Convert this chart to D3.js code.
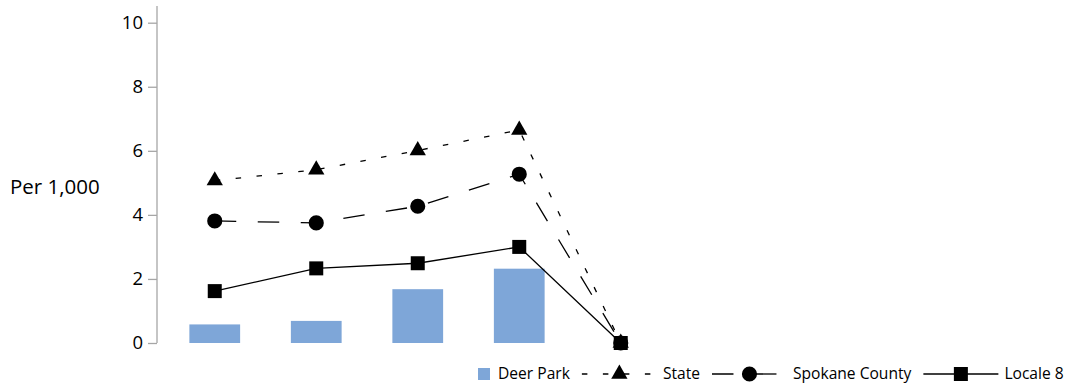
<!DOCTYPE html>
<html>
<head>
<meta charset="utf-8">
<script src="https://cdn.jsdelivr.net/npm/d3@7"></script>
<style>
    body { margin: 0; background: #fff; }
    text { font-family: "Open Sans", sans-serif; fill: #000; }
</style>
</head>
<body>
<div id="chart"></div>
<script>
// Chart data
const categories = ["1", "2", "3", "4", "5"];
const deerPark = [0.58, 0.69, 1.68, 2.32, 0];
const state = [5.07, 5.41, 6.01, 6.65, 0];
const spokane = [3.81, 3.75, 4.27, 5.27, 0];
const locale8 = [1.62, 2.33, 2.49, 3.0, 0];
const yTicks = [0, 2, 4, 6, 8, 10];

const width = 1070, height = 386;

let svg = d3.select("#chart").append("svg")
    .attr("width", width)
    .attr("height", height);

// Scales
let x = d3.scaleBand()
    .domain(categories)
    .range([164, 164 + 101.5 * categories.length])
    .paddingInner(0.5)
    .paddingOuter(0.25);
let cx = d => x(d) + x.bandwidth() / 2;

let y = d3.scaleLinear()
    .domain([0, 10])
    .range([343, 22.7]);

// Y axis
let yAxis = svg.append("g")
    .attr("transform", "translate(157,0)")
    .call(d3.axisLeft(y).tickValues(yTicks).tickSize(9).tickPadding(5).tickSizeOuter(0));
yAxis.select(".domain").remove();
yAxis.append("line")
    .attr("x1", 0).attr("x2", 0)
    .attr("y1", 6).attr("y2", y(0))
    .attr("stroke", "#a6a6a6")
    .attr("stroke-width", 1.3);
yAxis.selectAll(".tick line").attr("stroke", "#a6a6a6").attr("stroke-width", 1.3);
yAxis.selectAll(".tick text")
    .style("font-family", "'Open Sans', sans-serif")
    .style("font-size", "18.5px")
    .attr("fill", "#000");

svg.append("text")
    .attr("x", 10)
    .attr("y", 187)
    .attr("dy", "0.35em")
    .style("font-size", "20.5px")
    .text("Per 1,000");

// Bars
svg.append("g").selectAll("rect")
    .data(categories)
    .join("rect")
        .attr("x", d => x(d))
        .attr("width", x.bandwidth())
        .attr("y", (d, i) => y(deerPark[i]))
        .attr("height", (d, i) => y(0) - y(deerPark[i]))
        .attr("fill", "#7ea6d8");

// Line series
const series = [
    {name: "State", values: state, dash: "5.5,15.5", symbol: d3.symbolTriangle, size: 115},
    {name: "Spokane County", values: spokane, dash: "21.5,21.5", symbol: d3.symbolCircle, size: 180},
    {name: "Locale 8", values: locale8, dash: null, symbol: d3.symbolSquare, size: 196}
];

let line = d3.line()
    .x((d, i) => cx(categories[i]))
    .y(d => y(d));

series.forEach(function(s) {
    svg.append("path")
        .datum(s.values)
        .attr("d", line)
        .attr("fill", "none")
        .attr("stroke", "#000")
        .attr("stroke-width", 1.3)
        .attr("stroke-dasharray", s.dash);
});

series.forEach(function(s) {
    svg.append("g").selectAll("path")
        .data(s.values)
        .join("path")
            .attr("transform", (d, i) => "translate(" + cx(categories[i]) + "," + y(d) + ")")
            .attr("d", d3.symbol().type(s.symbol).size(s.size))
            .attr("fill", "#000");
});

// Legend
let legend = svg.append("g")
    .attr("transform", "translate(0,374)")
    .style("font-size", "15.6px");

let lx = 478;
legend.append("rect")
    .attr("x", lx).attr("y", -6)
    .attr("width", 12).attr("height", 12)
    .attr("fill", "#7ea6d8");
let t0 = legend.append("text")
    .attr("x", lx + 20).attr("dy", "0.35em")
    .text("Deer Park");
lx += 20 + t0.node().getComputedTextLength() + 12;

series.forEach(function(s) {
    legend.append("line")
        .attr("x1", lx).attr("x2", lx + 75)
        .attr("stroke", "#000")
        .attr("stroke-width", 1.3)
        .attr("stroke-dasharray", s.dash);
    legend.append("path")
        .attr("transform", "translate(" + (lx + 37.5) + ",0)")
        .attr("d", d3.symbol().type(s.symbol).size(s.size))
        .attr("fill", "#000");
    let t = legend.append("text")
        .attr("x", lx + 81).attr("dy", "0.35em")
        .text(s.name);
    lx += 81 + t.node().getComputedTextLength() + 12;
});
</script>
</body>
</html>
